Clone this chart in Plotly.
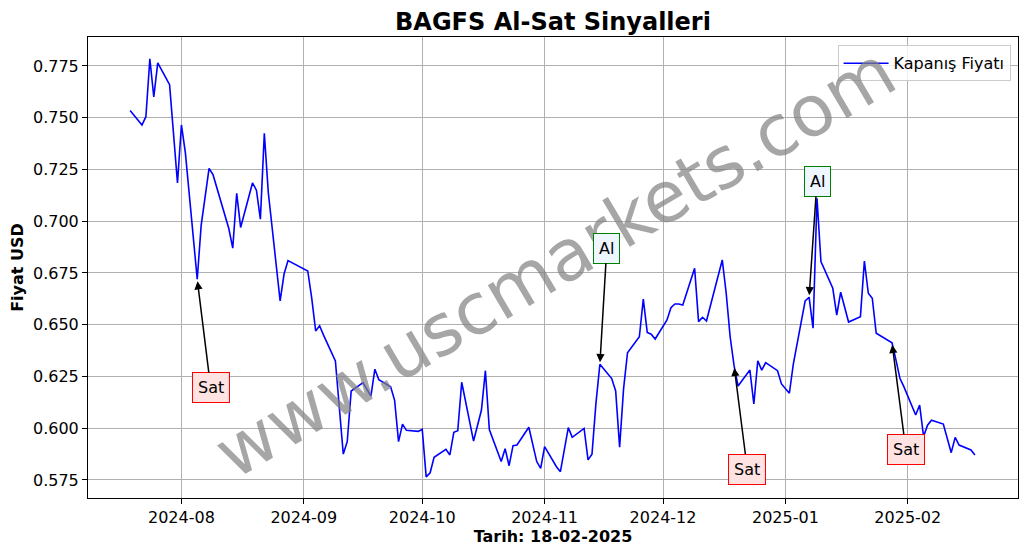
import plotly.graph_objects as go

dates = [
    "2024-07-19", "2024-07-22", "2024-07-23", "2024-07-24", "2024-07-25", "2024-07-26",
    "2024-07-29", "2024-07-31", "2024-08-01", "2024-08-02", "2024-08-05", "2024-08-06",
    "2024-08-08", "2024-08-09", "2024-08-13", "2024-08-14", "2024-08-15", "2024-08-16",
    "2024-08-19", "2024-08-20", "2024-08-21", "2024-08-22", "2024-08-23", "2024-08-26",
    "2024-08-27", "2024-08-28", "2024-09-02", "2024-09-03", "2024-09-04", "2024-09-05",
    "2024-09-06", "2024-09-09", "2024-09-11", "2024-09-12", "2024-09-13", "2024-09-16",
    "2024-09-18", "2024-09-19", "2024-09-20", "2024-09-23", "2024-09-24", "2024-09-25",
    "2024-09-26", "2024-09-27", "2024-09-30", "2024-10-01", "2024-10-02", "2024-10-03",
    "2024-10-04", "2024-10-07", "2024-10-08", "2024-10-09", "2024-10-10", "2024-10-11",
    "2024-10-14", "2024-10-15", "2024-10-16", "2024-10-17", "2024-10-18", "2024-10-21",
    "2024-10-22", "2024-10-23", "2024-10-24", "2024-10-25", "2024-10-28", "2024-10-30",
    "2024-10-31", "2024-11-01", "2024-11-04", "2024-11-05", "2024-11-07", "2024-11-08",
    "2024-11-11", "2024-11-12", "2024-11-13", "2024-11-14", "2024-11-15", "2024-11-18",
    "2024-11-19", "2024-11-20", "2024-11-21", "2024-11-22", "2024-11-25", "2024-11-26",
    "2024-11-27", "2024-11-28", "2024-11-29", "2024-12-02", "2024-12-03", "2024-12-04",
    "2024-12-05", "2024-12-06", "2024-12-09", "2024-12-10", "2024-12-11", "2024-12-12",
    "2024-12-16", "2024-12-17", "2024-12-18", "2024-12-19", "2024-12-20", "2024-12-23",
    "2024-12-24", "2024-12-25", "2024-12-26", "2024-12-27", "2024-12-30", "2024-12-31",
    "2025-01-02", "2025-01-03", "2025-01-06", "2025-01-07", "2025-01-08", "2025-01-09",
    "2025-01-10", "2025-01-13", "2025-01-14", "2025-01-15", "2025-01-17", "2025-01-20",
    "2025-01-21", "2025-01-22", "2025-01-23", "2025-01-24", "2025-01-28", "2025-01-29",
    "2025-01-30", "2025-01-31", "2025-02-03", "2025-02-04", "2025-02-05", "2025-02-06",
    "2025-02-07", "2025-02-10", "2025-02-11", "2025-02-12", "2025-02-13", "2025-02-14",
    "2025-02-17", "2025-02-18",
]
prices = [
    0.7535, 0.7465, 0.7505, 0.7785, 0.7600, 0.7765,
    0.7660, 0.7185, 0.7465, 0.7330, 0.6720, 0.6980,
    0.7255, 0.7225, 0.6965, 0.6870, 0.7135, 0.6970,
    0.7185, 0.7150, 0.7010, 0.7425, 0.7140, 0.6615,
    0.6745, 0.6810, 0.6760, 0.6630, 0.6470, 0.6495,
    0.6450, 0.6325, 0.5875, 0.5935, 0.6180, 0.6220,
    0.6155, 0.6285, 0.6235, 0.6200, 0.6135, 0.5935,
    0.6020, 0.5990, 0.5985, 0.5995, 0.5765, 0.5785,
    0.5860, 0.5898, 0.5871, 0.5980, 0.5988, 0.6222,
    0.5938, 0.6015, 0.6088, 0.6278, 0.5994, 0.5839,
    0.5901, 0.5819, 0.5916, 0.5919, 0.6005, 0.5839,
    0.5806, 0.5911, 0.5814, 0.5790, 0.6003, 0.5956,
    0.5999, 0.5847, 0.5874, 0.6120, 0.6309, 0.6240,
    0.6180, 0.5908, 0.6190, 0.6365, 0.6442, 0.6624,
    0.6463, 0.6454, 0.6431, 0.6523, 0.6582, 0.6600,
    0.6600, 0.6595, 0.6773, 0.6515, 0.6536, 0.6518,
    0.6813, 0.6652, 0.6442, 0.6301, 0.6204, 0.6281,
    0.6117, 0.6326, 0.6281, 0.6317, 0.6278, 0.6214,
    0.6169, 0.6310, 0.6615, 0.6633, 0.6483, 0.7111,
    0.6805, 0.6676, 0.6547, 0.6657, 0.6513, 0.6539,
    0.6808, 0.6652, 0.6628, 0.6459, 0.6413, 0.6330,
    0.6241, 0.6201, 0.6064, 0.6112, 0.5960, 0.6015,
    0.6039, 0.6020, 0.5950, 0.5882, 0.5956, 0.5919,
    0.5895, 0.5871,
]

# Signals: point date/value, label, label position
signal_dates = ["2024-08-05", "2024-11-15", "2024-12-19", "2025-01-07", "2025-01-28"]
signal_labels = ["Sat", "Al", "Sat", "Al", "Sat"]
label_dates = ["2024-08-08 10:00", "2024-11-16 18:00", "2024-12-22 08:00",
               "2025-01-09 00:00", "2025-01-31 12:00"]
label_values = [0.6195, 0.6870, 0.5803, 0.7194, 0.5895]

title = "BAGFS Al-Sat Sinyalleri"
x_title = "Tarih: 18-02-2025"
y_title = "Fiyat USD"
legend_name = "Kapanış Fiyatı"
watermark = "www.uscmarkets.com"

FONT = "DejaVu Sans"
FS = 16

fig = go.Figure()
fig.add_trace(go.Scatter(
    x=dates, y=prices, mode="lines", name=legend_name,
    line=dict(color="#0000ff", width=1.6),
))

# watermark first so the signal labels sit on top of it
annotations = [dict(
    x=0.502, y=0.510, xref="paper", yref="paper", text=watermark, showarrow=False,
    textangle=-30.6, font=dict(family=FONT, size=71, color="rgba(128,128,128,0.7)"),
)]

price_by_date = dict(zip(dates, prices))
for d, lab, ld, lv in zip(signal_dates, signal_labels, label_dates, label_values):
    is_buy = lab == "Al"
    annotations.append(dict(
        x=d, y=price_by_date[d], xref="x", yref="y",
        ax=ld, ay=lv, axref="x", ayref="y",
        text=lab, showarrow=True, arrowhead=2, arrowsize=1.1, arrowwidth=1.5,
        arrowcolor="black", standoff=2,
        font=dict(family=FONT, size=FS, color="black"),
        bgcolor="#eef6ff" if is_buy else "#ffe2e2",
        bordercolor="green" if is_buy else "red",
        borderwidth=1, borderpad=5,
    ))

# page body adds ~8px offset; figure sized to compensate
fig.update_layout(
    width=1020, height=546,
    margin=dict(l=80, r=10, t=29, b=56),
    paper_bgcolor="white", plot_bgcolor="white",
    title=dict(text="<b>" + title + "</b>", x=0.5343, xanchor="center", y=0.975, yanchor="middle",
               font=dict(family=FONT, size=24, color="black")),
    font=dict(family=FONT, size=FS, color="black"),
    showlegend=True,
    legend=dict(x=0.992, y=0.982, xanchor="right", yanchor="top", itemwidth=45,
                bgcolor="rgba(255,255,255,0.8)", bordercolor="#cccccc", borderwidth=1,
                font=dict(family=FONT, size=FS)),
    annotations=annotations,
)
fig.update_xaxes(
    type="date", range=["2024-07-08 08:00", "2025-02-28 22:00"],
    tickformat="%Y-%m", dtick="M1", tick0="2024-08-01",
    showgrid=True, gridcolor="#b0b0b0", gridwidth=1,
    showline=True, linecolor="black", linewidth=1, mirror=True,
    ticks="outside", ticklen=5, tickcolor="black",
    title=dict(text="<b>" + x_title + "</b>", font=dict(family=FONT, size=FS), standoff=4),
    tickfont=dict(family=FONT, size=FS), automargin=False,
)
fig.update_yaxes(
    range=[0.5663, 0.7890], dtick=0.025, tick0=0.575, tickformat=".3f",
    showgrid=True, gridcolor="#b0b0b0", gridwidth=1,
    showline=True, linecolor="black", linewidth=1, mirror=True,
    ticks="outside", ticklen=5, tickcolor="black",
    title=dict(text="<b>" + y_title + "</b>", font=dict(family=FONT, size=FS), standoff=6),
    tickfont=dict(family=FONT, size=FS), automargin=False,
    zeroline=False,
)

fig.write_html("out.html")
